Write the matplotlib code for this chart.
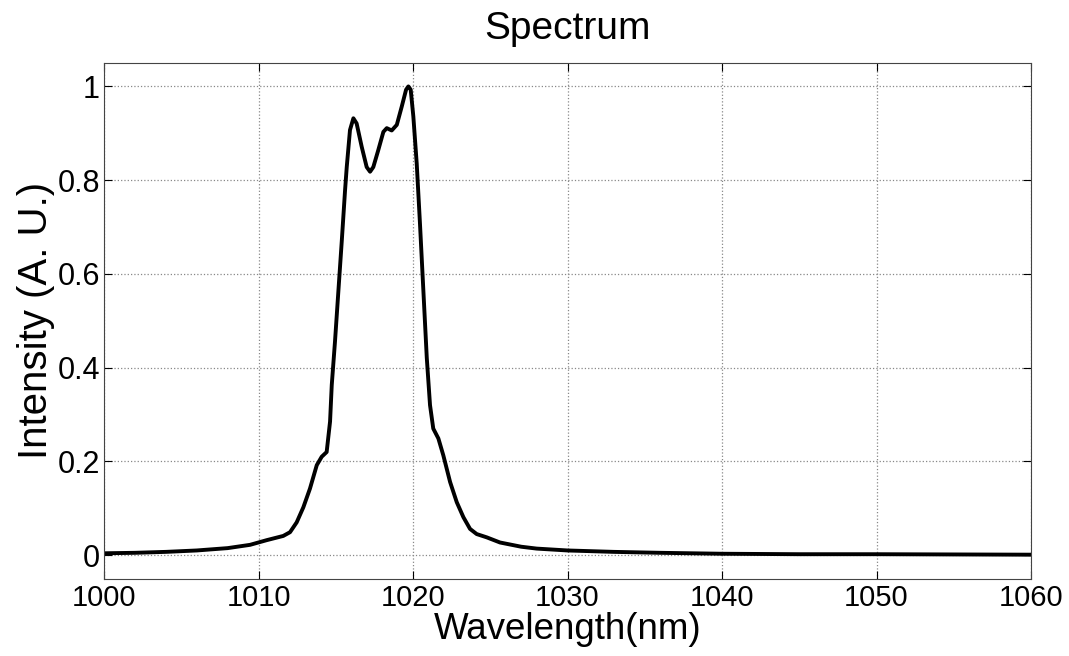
import matplotlib.pyplot as plt

plt.rcParams['font.family'] = ['Liberation Sans', 'DejaVu Sans']

# ----------------------------------------
# Spectrum values
# ----------------------------------------
wavelength = [1000, 1002, 1004, 1006, 1008, 1009.45, 1010.53, 1011.6, 1012.04,
              1012.47, 1012.9, 1013.33, 1013.77, 1014.09, 1014.41, 1014.63,
              1014.74, 1014.95, 1015.17, 1015.39, 1015.6, 1015.71, 1015.92,
              1016.14, 1016.35, 1016.68, 1017.0, 1017.22, 1017.43, 1017.75,
              1018.08, 1018.3, 1018.62, 1018.95, 1019.27, 1019.55, 1019.7,
              1019.85, 1020.02, 1020.24, 1020.45, 1020.67, 1020.89, 1021.1,
              1021.31, 1021.64, 1021.96, 1022.4, 1022.83, 1023.26, 1023.69,
              1024.12, 1024.77, 1025.63, 1027, 1028, 1030, 1033, 1036, 1040,
              1045, 1050, 1055, 1060]
intensity = [0.004, 0.005, 0.007, 0.010, 0.015, 0.022, 0.032, 0.041, 0.049,
             0.070, 0.102, 0.142, 0.192, 0.210, 0.220, 0.285,
             0.363, 0.456, 0.564, 0.671, 0.778, 0.828, 0.907,
             0.932, 0.921, 0.871, 0.828, 0.818, 0.828, 0.864,
             0.903, 0.911, 0.906, 0.918, 0.957, 0.993, 1.000,
             0.993, 0.936, 0.835, 0.707, 0.564, 0.421, 0.320,
             0.270, 0.249, 0.213, 0.156, 0.113, 0.081, 0.056,
             0.045, 0.038, 0.027, 0.018, 0.014, 0.010, 0.007, 0.005, 0.003,
             0.002, 0.002, 0.0015, 0.001]

x_ticks = [1000, 1010, 1020, 1030, 1040, 1050, 1060]
y_ticks = [0, 0.2, 0.4, 0.6, 0.8, 1]
y_tick_labels = ['0', '0.2', '0.4', '0.6', '0.8', '1']

# ----------------------------------------
# Plot
# ----------------------------------------
fig, ax = plt.subplots(figsize=(10.69, 6.56), dpi=100)
fig.subplots_adjust(left=0.0973, right=0.9645, bottom=0.118, top=0.904)

ax.plot(wavelength, intensity, color='black', linewidth=2.8,
        solid_joinstyle='round', solid_capstyle='round')

ax.set_xlim(1000, 1060)
ax.set_ylim(-0.05, 1.05)
ax.set_xticks(x_ticks)
ax.set_yticks(y_ticks)
ax.set_yticklabels(y_tick_labels)

ax.grid(True, linestyle=':', color='#888888', linewidth=0.9)
ax.tick_params(direction='in', top=True, right=True, length=6)
ax.tick_params(axis='x', pad=4, labelsize=21)
ax.tick_params(axis='y', pad=3, labelsize=22)
for spine in ax.spines.values():
    spine.set_color('#444444')

ax.set_xlabel('Wavelength(nm)', fontsize=26.5, labelpad=0)
ax.set_ylabel('Intensity (A. U.)', fontsize=29, labelpad=2)
ax.set_title('Spectrum', fontsize=28, pad=17)

plt.savefig('out.png', dpi=100)
